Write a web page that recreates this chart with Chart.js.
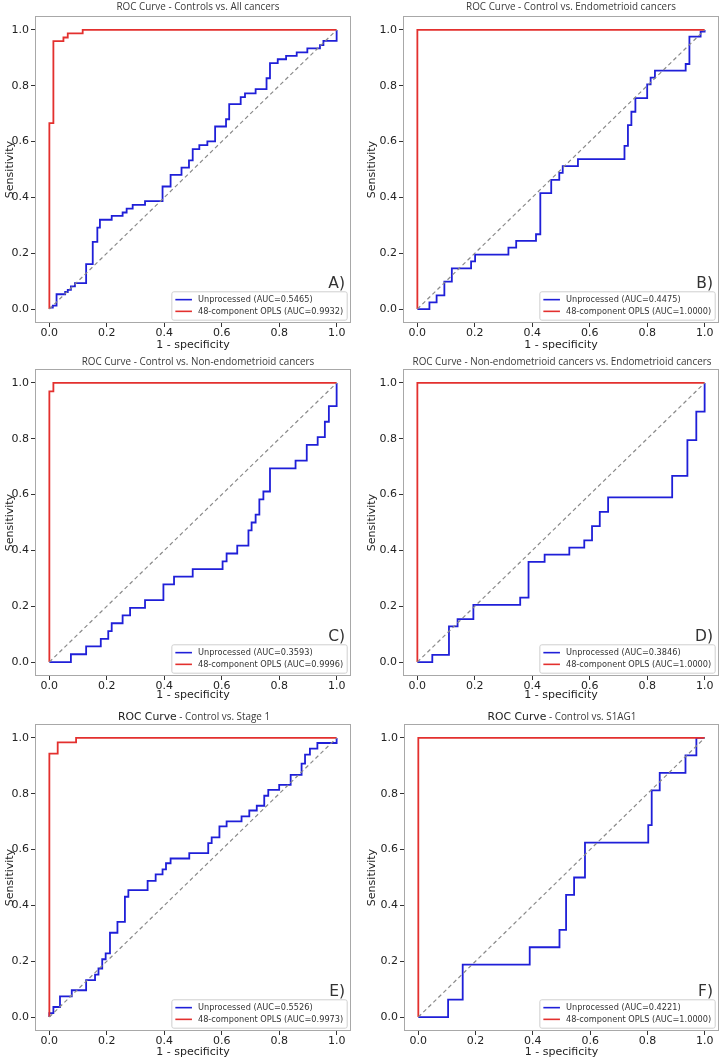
<!DOCTYPE html>
<html>
<head>
<meta charset="utf-8">
<script src="https://cdn.jsdelivr.net/npm/chart.js@4.4.1/dist/chart.umd.min.js"></script>
<style>
  body { margin: 0; background: #fff; width: 724px; height: 1060px; position: relative; overflow: hidden; }
  .panel { position: absolute; }
  .ttl { position: absolute; transform: translate(-50%, -50%); white-space: nowrap;
         font-family: "Open Sans"; font-size: 9.9px; color: #3a3a3a; line-height: 1; }
  .ttl .big { font-family: "DejaVu Sans"; font-size: 10.8px; color: #222; }
</style>
</head>
<body>

<script>
// ---- data: ROC step points (x = 1 - specificity where the curve rises, y = new sensitivity)
const tickVals = [0, 0.2, 0.4, 0.6, 0.8, 1.0];
const diagX = [0, 1];
const diagY = [0, 1];

// A) Controls vs. All cancers
const rawA_x = [0, 0.012, 0.025, 0.055, 0.064, 0.075, 0.089, 0.128, 0.151, 0.167, 0.176, 0.217, 0.255, 0.269, 0.29, 0.333, 0.394, 0.422, 0.46, 0.486, 0.499, 0.522, 0.55, 0.577, 0.615, 0.626, 0.666, 0.681, 0.718, 0.756, 0.768, 0.795, 0.824, 0.861, 0.898, 0.942, 0.954, 1.0];
const rawA_y = [0.005, 0.012, 0.053, 0.061, 0.069, 0.081, 0.093, 0.161, 0.241, 0.292, 0.32, 0.334, 0.346, 0.36, 0.373, 0.387, 0.439, 0.481, 0.507, 0.533, 0.573, 0.587, 0.601, 0.654, 0.68, 0.734, 0.759, 0.773, 0.788, 0.827, 0.881, 0.895, 0.907, 0.92, 0.934, 0.946, 0.961, 1.0];
const oplsA_x = [0, 0, 0.014, 0.049, 0.064, 0.116, 1.0];
const oplsA_y = [0, 0.666, 0.96, 0.973, 0.988, 1.0, 1.0];

// B) Control vs. Endometrioid cancers
const rawB_x = [0, 0.042, 0.067, 0.094, 0.12, 0.187, 0.201, 0.317, 0.344, 0.413, 0.428, 0.466, 0.494, 0.506, 0.559, 0.721, 0.733, 0.745, 0.759, 0.8, 0.812, 0.827, 0.934, 0.947, 0.986, 1.0];
const rawB_y = [0, 0.024, 0.049, 0.098, 0.146, 0.171, 0.195, 0.22, 0.244, 0.268, 0.415, 0.463, 0.488, 0.512, 0.537, 0.585, 0.659, 0.707, 0.756, 0.805, 0.829, 0.854, 0.878, 0.976, 0.994, 1.0];
const oplsB_x = [0, 0, 1.0];
const oplsB_y = [0, 1.0, 1.0];

// C) Control vs. Non-endometrioid cancers
const rawC_x = [0, 0.075, 0.128, 0.179, 0.205, 0.217, 0.255, 0.281, 0.333, 0.397, 0.434, 0.499, 0.603, 0.617, 0.654, 0.693, 0.704, 0.718, 0.731, 0.745, 0.768, 0.857, 0.896, 0.934, 0.959, 0.973, 1.0];
const rawC_y = [0, 0.028, 0.056, 0.083, 0.111, 0.139, 0.167, 0.194, 0.222, 0.278, 0.306, 0.333, 0.361, 0.389, 0.417, 0.472, 0.5, 0.528, 0.583, 0.611, 0.694, 0.722, 0.778, 0.806, 0.861, 0.917, 1.0];
const oplsC_x = [0, 0, 0.014, 1.0];
const oplsC_y = [0, 0.97, 1.0, 1.0];

// D) Non-endometrioid cancers vs. Endometrioid cancers
const rawD_x = [0, 0.052, 0.11, 0.14, 0.195, 0.358, 0.387, 0.443, 0.529, 0.581, 0.608, 0.635, 0.664, 0.887, 0.94, 0.971, 1.0];
const rawD_y = [0, 0.026, 0.128, 0.154, 0.205, 0.231, 0.359, 0.385, 0.41, 0.436, 0.487, 0.538, 0.59, 0.667, 0.795, 0.897, 1.0];
const oplsD_x = [0, 0, 1.0];
const oplsD_y = [0, 1.0, 1.0];

// E) Control vs. Stage 1
const rawE_x = [0, 0, 0.014, 0.037, 0.078, 0.128, 0.159, 0.171, 0.184, 0.196, 0.211, 0.237, 0.263, 0.275, 0.342, 0.37, 0.394, 0.406, 0.422, 0.487, 0.553, 0.565, 0.592, 0.617, 0.669, 0.696, 0.722, 0.748, 0.762, 0.8, 0.84, 0.878, 0.89, 0.907, 0.933, 1.0];
const rawE_y = [0, 0.014, 0.036, 0.074, 0.096, 0.132, 0.152, 0.174, 0.207, 0.228, 0.302, 0.341, 0.431, 0.455, 0.488, 0.511, 0.529, 0.551, 0.568, 0.587, 0.623, 0.644, 0.683, 0.701, 0.719, 0.74, 0.757, 0.793, 0.814, 0.832, 0.868, 0.908, 0.94, 0.962, 0.982, 1.0];
const oplsE_x = [0, 0, 0.029, 0.093, 1.0];
const oplsE_y = [0, 0.944, 0.984, 1.0, 1.0];

// F) Control vs. S1AG1
const rawF_x = [0, 0.104, 0.155, 0.389, 0.493, 0.516, 0.544, 0.582, 0.803, 0.815, 0.843, 0.933, 0.971, 1.0];
const rawF_y = [0, 0.0625, 0.1875, 0.25, 0.3125, 0.4375, 0.5, 0.625, 0.6875, 0.8125, 0.875, 0.9375, 1.0, 1.0];
const oplsF_x = [0, 0, 1.0];
const oplsF_y = [0, 1.0, 1.0];

const aucRaw = ['0.5465', '0.4475', '0.3593', '0.3846', '0.5526', '0.4221'];
const aucOpls = ['0.9932', '1.0000', '0.9996', '1.0000', '0.9973', '1.0000'];
const letters = ['A)', 'B)', 'C)', 'D)', 'E)', 'F)'];

// ---- layout of the six panels (page pixels)
const panels = [
  { x: 0,   y: 0,   w: 362, h: 352, padL: 0, axW: 35, padR: 11, padT: 16, axH: 29, xtPad: 0,
    raw: [rawA_x, rawA_y], opls: [oplsA_x, oplsA_y],
    tx: 198, ty: 7, title: 'ROC Curve - Controls vs. All cancers' },
  { x: 362, y: 0,   w: 362, h: 352, padL: 0, axW: 41, padR: 5, padT: 16, axH: 29, xtPad: 0,
    raw: [rawB_x, rawB_y], opls: [oplsB_x, oplsB_y],
    tx: 571, ty: 7, title: 'ROC Curve - Control vs. Endometrioid cancers' },
  { x: 0,   y: 352, w: 362, h: 352, padL: 0, axW: 35, padR: 11, padT: 17, axH: 28, xtPad: 2,
    raw: [rawC_x, rawC_y], opls: [oplsC_x, oplsC_y],
    tx: 198, ty: 362, title: 'ROC Curve - Control vs. Non-endometrioid cancers' },
  { x: 362, y: 352, w: 362, h: 352, padL: 0, axW: 41, padR: 5, padT: 17, axH: 28, xtPad: 2,
    raw: [rawD_x, rawD_y], opls: [oplsD_x, oplsD_y],
    tx: 562, ty: 362, title: 'ROC Curve - Non-endometrioid cancers vs. Endometrioid cancers' },
  { x: 0,   y: 704, w: 362, h: 356, padL: 0, axW: 35, padR: 11, padT: 20, axH: 29, xtPad: 1,
    raw: [rawE_x, rawE_y], opls: [oplsE_x, oplsE_y],
    tx: 194, ty: 717, big: 'ROC Curve', title: ' - Control vs. Stage 1' },
  { x: 362, y: 704, w: 362, h: 356, padL: 0, axW: 42, padR: 5, padT: 20, axH: 29, xtPad: 1,
    raw: [rawF_x, rawF_y], opls: [oplsF_x, oplsF_y],
    tx: 562, ty: 717, big: 'ROC Curve', title: ' - Control vs. S1AG1' }
];

Chart.defaults.font.family = '"DejaVu Sans"';
Chart.defaults.color = '#222';

function pts(xs, ys) {
  return xs.map((x, i) => ({ x: x, y: ys[i] }));
}

// frame around the axes
const frame = {
  id: 'frame',
  beforeDatasetsDraw(chart) {
    const { ctx, chartArea: a } = chart;
    ctx.save();
    ctx.strokeStyle = '#a8a8a8';
    ctx.lineWidth = 1;
    ctx.strokeRect(a.left + 0.5, a.top + 0.5, a.right - a.left - 1, a.bottom - a.top - 1);
    ctx.restore();
  }
};

// legend box in lower right + panel letter
const legendBox = {
  id: 'legendBox',
  afterDatasetsDraw(chart, args, opts) {
    const { ctx, chartArea: a } = chart;
    const items = chart.data.datasets.filter(d => d.inLegend)
      .sort((p, q) => q.order - p.order);
    ctx.save();
    ctx.font = '8.2px "DejaVu Sans"';
    const tw = Math.max(...items.map(d => ctx.measureText(d.label).width));
    const rowH = 11.7;
    const w = 26.6 + tw + 3.5;
    const h = rowH * items.length + 5;
    const x = a.right - 4.3 - w;
    const y = a.bottom - 3.3 - h;
    ctx.fillStyle = 'rgba(255,255,255,0.85)';
    ctx.strokeStyle = '#cfcfcf';
    ctx.lineWidth = 1;
    ctx.beginPath();
    ctx.roundRect(x + 0.5, y + 0.5, w, h, 2);
    ctx.fill();
    ctx.stroke();
    items.forEach((d, i) => {
      const cy = y + 2.5 + rowH * i + rowH / 2;
      ctx.strokeStyle = d.borderColor;
      ctx.lineWidth = 1.6;
      ctx.beginPath();
      ctx.moveTo(x + 4, cy);
      ctx.lineTo(x + 20.6, cy);
      ctx.stroke();
      ctx.fillStyle = '#333';
      ctx.textBaseline = 'middle';
      ctx.fillText(d.label, x + 26.6, cy + 0.5);
    });
    ctx.font = '15.5px "DejaVu Sans"';
    ctx.fillStyle = '#333';
    ctx.textAlign = 'right';
    ctx.textBaseline = 'alphabetic';
    ctx.fillText(opts.letter, a.right - 6, y - 3.5);
    ctx.restore();
  }
};

panels.forEach((p, k) => {
  const box = document.createElement('div');
  box.className = 'panel';
  box.style.left = p.x + 'px';
  box.style.top = p.y + 'px';
  box.style.width = p.w + 'px';
  box.style.height = p.h + 'px';
  const cv = document.createElement('canvas');
  box.appendChild(cv);
  document.body.appendChild(box);

  const t = document.createElement('div');
  t.className = 'ttl';
  t.style.left = p.tx + 'px';
  t.style.top = p.ty + 'px';
  if (p.big) {
    const b = document.createElement('span');
    b.className = 'big';
    b.textContent = p.big;
    t.appendChild(b);
  }
  t.appendChild(document.createTextNode(p.title));
  document.body.appendChild(t);

  const axisFont = { size: 11 };
  new Chart(cv, {
    type: 'line',
    data: {
      datasets: [
        {
          label: 'chance',
          data: pts(diagX, diagY),
          borderColor: '#8a8a8a',
          borderWidth: 1.2,
          borderDash: [4, 3],
          pointRadius: 0,
          order: 0
        },
        {
          label: '48-component OPLS (AUC=' + aucOpls[k] + ')',
          data: pts(p.opls[0], p.opls[1]),
          borderColor: '#e3302e',
          borderWidth: 1.8,
          stepped: 'before',
          pointRadius: 0,
          inLegend: true,
          order: 1
        },
        {
          label: 'Unprocessed (AUC=' + aucRaw[k] + ')',
          data: pts(p.raw[0], p.raw[1]),
          borderColor: '#1f1fd8',
          borderWidth: 1.8,
          stepped: 'before',
          pointRadius: 0,
          inLegend: true,
          order: 2
        }
      ]
    },
    options: {
      responsive: true,
      maintainAspectRatio: false,
      animation: false,
      layout: { padding: { left: p.padL, right: p.padR, top: p.padT, bottom: 0 } },
      plugins: {
        legend: { display: false },
        tooltip: { enabled: false },
        legendBox: { letter: letters[k] }
      },
      scales: {
        x: {
          type: 'linear',
          min: -0.05,
          max: 1.05,
          afterBuildTicks: s => { s.ticks = tickVals.map(v => ({ value: v })); },
          afterFit: s => { s.height = p.axH; },
          ticks: { font: axisFont, padding: 0, maxRotation: 0, callback: v => v.toFixed(1) },
          grid: { drawOnChartArea: false, drawTicks: true, tickLength: 4, color: '#333' },
          border: { display: false },
          title: { display: true, text: '1 - specificity', font: axisFont, padding: { top: 0, bottom: p.xtPad } }
        },
        y: {
          type: 'linear',
          min: -0.05,
          max: 1.05,
          afterBuildTicks: s => { s.ticks = tickVals.map(v => ({ value: v })); },
          afterFit: s => { s.width = p.axW; },
          ticks: { font: axisFont, padding: 2, callback: v => v.toFixed(1) },
          grid: { drawOnChartArea: false, drawTicks: true, tickLength: 4, color: '#333' },
          border: { display: false },
          title: { display: true, text: 'Sensitivity', font: axisFont, padding: { top: 4, bottom: 0 } }
        }
      }
    },
    plugins: [frame, legendBox]
  });
});
</script>
</body>
</html>
